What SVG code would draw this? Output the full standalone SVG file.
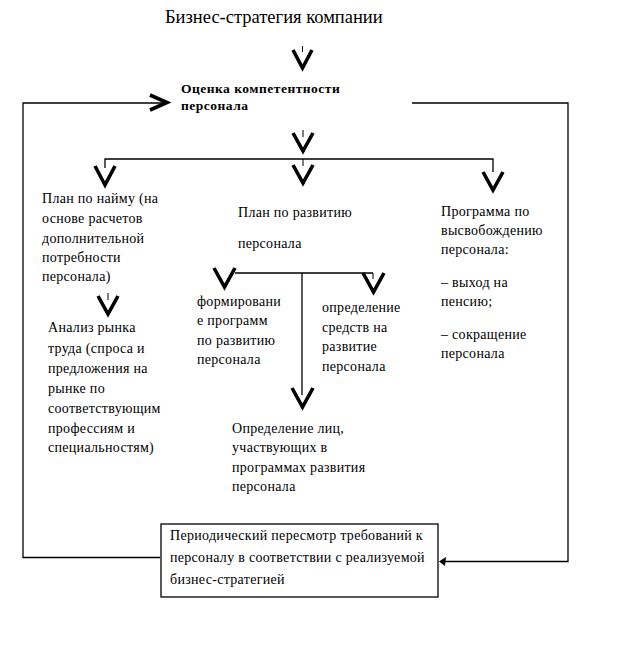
<svg xmlns="http://www.w3.org/2000/svg" width="626" height="651" viewBox="0 0 626 651">
<style>
.t{font-family:'Liberation Serif','Times New Roman','DejaVu Serif',serif;font-size:14px;letter-spacing:0.3px;fill:#000}
.b{font-family:'Liberation Serif','Times New Roman','DejaVu Serif',serif;font-size:13.5px;letter-spacing:0.5px;font-weight:bold;fill:#000}
.ln{fill:none;stroke:#000;stroke-width:1.3}
.v{fill:none;stroke:#000;stroke-width:3.6;stroke-linejoin:miter;stroke-linecap:butt}
.tk{fill:none;stroke:#000;stroke-width:1}
</style>
<rect width="626" height="651" fill="#fff"/>
<g id="title"><text x="165" y="23" class="t" style="font-size:18.5px;letter-spacing:0">Бизнес-стратегия компании</text></g>
<g id="assessment"><text x="181" y="93" class="b">Оценка компетентности</text><text x="181" y="110" class="b">персонала</text></g>
<g id="hiring"><text class="t"><tspan x="42" y="203">План по найму (на</tspan><tspan x="42" y="223">основе расчетов</tspan><tspan x="42" y="243">дополнительной</tspan><tspan x="42" y="262">потребности</tspan><tspan x="42" y="281">персонала)</tspan></text></g>
<g id="market"><text class="t"><tspan x="48" y="332">Анализ рынка</tspan><tspan x="48" y="353">труда (спроса и</tspan><tspan x="48" y="373">предложения на</tspan><tspan x="48" y="393">рынке по</tspan><tspan x="48" y="413">соответствующим</tspan><tspan x="48" y="433">профессиям и</tspan><tspan x="48" y="452">специальностям)</tspan></text></g>
<g id="development"><text class="t"><tspan x="238" y="217">План по развитию</tspan><tspan x="238" y="248">персонала</tspan></text></g>
<g id="programs"><text class="t"><tspan x="197" y="306">формировани</tspan><tspan x="197" y="325">е программ</tspan><tspan x="197" y="345">по развитию</tspan><tspan x="197" y="364">персонала</tspan></text></g>
<g id="funds"><text class="t"><tspan x="322" y="312">определение</tspan><tspan x="322" y="332">средств на</tspan><tspan x="322" y="351">развитие</tspan><tspan x="322" y="371">персонала</tspan></text></g>
<g id="participants"><text class="t"><tspan x="232" y="433">Определение лиц,</tspan><tspan x="232" y="452">участвующих в</tspan><tspan x="232" y="472">программах развития</tspan><tspan x="232" y="491">персонала</tspan></text></g>
<g id="release"><text class="t"><tspan x="441" y="216">Программа по</tspan><tspan x="441" y="235">высвобождению</tspan><tspan x="441" y="254">персонала:</tspan><tspan x="441" y="287">– выход на</tspan><tspan x="441" y="306">пенсию;</tspan><tspan x="441" y="339">– сокращение</tspan><tspan x="441" y="358">персонала</tspan></text></g>
<g id="review"><rect x="161" y="524" width="277" height="73" fill="#fff" stroke="#000" stroke-width="1.3"/><text class="t"><tspan x="170" y="540">Периодический пересмотр требований к</tspan><tspan x="170" y="562">персоналу в соответствии с реализуемой</tspan><tspan x="170" y="584">бизнес-стратегией</tspan></text></g>
<g id="connectors">
<polyline class="v" points="293,50 302.5,68 312,50"/>
<line class="tk" x1="302.5" y1="46" x2="302.5" y2="52"/>
<path class="ln" d="M160 557.5 H23 V103 H163"/>
<polyline class="v" points="150,95 167,102.5 150,110"/>
<path class="ln" d="M412 103 H568 V561.5 H445"/>
<polygon points="439,561.5 446,557 445,566" fill="#000"/>
<line class="tk" x1="303" y1="130" x2="303" y2="137"/>
<polyline class="v" points="293,133 303,151 313,133"/>
<path class="ln" d="M105 168 V159 H493 V172"/>
<line class="tk" x1="303" y1="159" x2="303" y2="166"/>
<polyline class="v" points="293,165 303,183 313,165"/>
<polyline class="v" points="95,166 105,185 115,166"/>
<polyline class="v" points="483,172 493,190 503,172"/>
<line class="tk" x1="108" y1="293" x2="108" y2="300"/>
<polyline class="v" points="98,296 108,314 118,296"/>
<path class="ln" d="M235 273 H373 M302 273 V395"/>
<line class="tk" x1="373" y1="273" x2="373" y2="279"/>
<polyline class="v" points="214,268 224.5,287 235,268"/>
<polyline class="v" points="363,273 373.5,292 384,273"/>
<polyline class="v" points="292,388 302.5,407 313,388"/>
</g>
</svg>
